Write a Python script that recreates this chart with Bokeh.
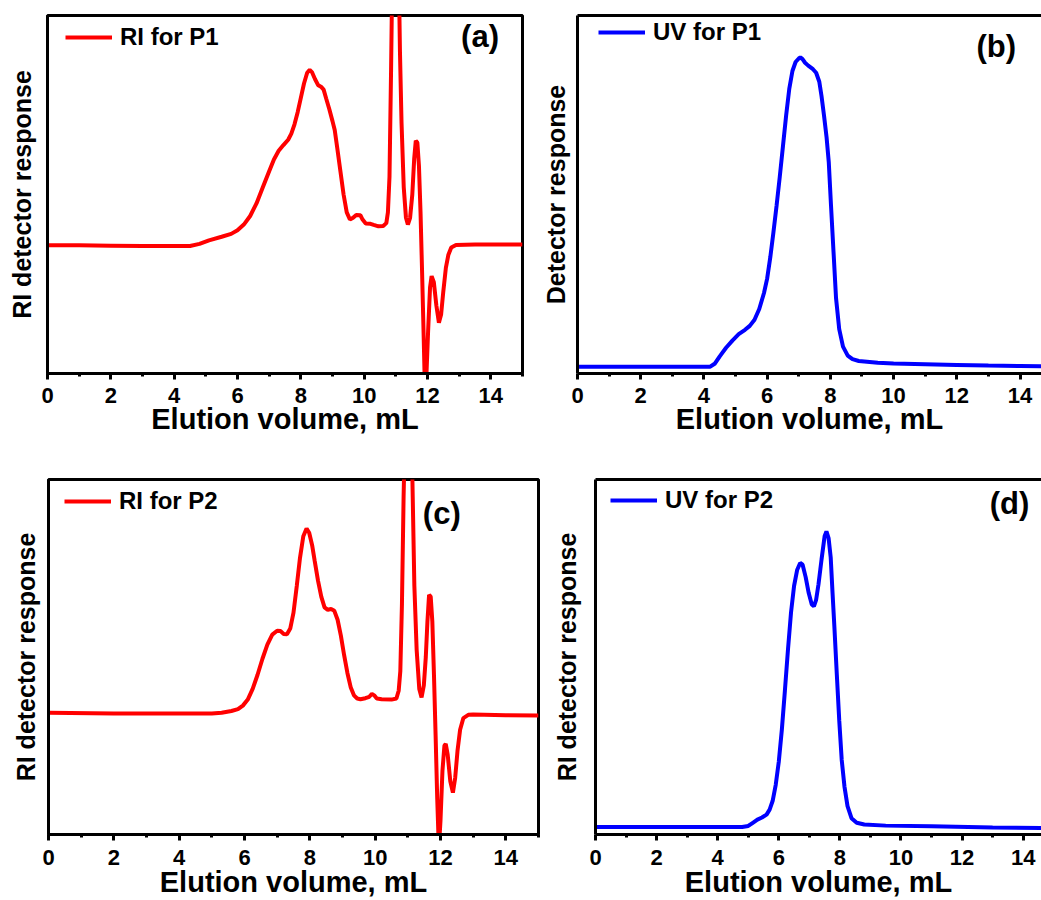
from bokeh.plotting import figure
from bokeh.models import Range1d, FixedTicker, LinearAxis, Legend, LegendItem, Label
from bokeh.layouts import column, row
from bokeh.embed import file_html
from bokeh.resources import INLINE

# ---------------- data (arbitrary detector units 0-100) ----------------
x_ticks = [0, 2, 4, 6, 8, 10, 12, 14]
x_minor = [1, 3, 5, 7, 9, 11, 13, 15]

ri_p1_x = [0.0, 1.0, 2.0, 3.0, 4.0, 4.5, 4.8, 5.1, 5.5, 5.8, 6.0, 6.2, 6.4, 6.6, 6.8, 7.0, 7.15, 7.3,
           7.45, 7.6, 7.7, 7.8, 7.9, 8.0, 8.1, 8.2, 8.28, 8.35, 8.45, 8.55, 8.65, 8.72, 8.8, 8.9,
           9.0, 9.07, 9.15, 9.25, 9.35, 9.45, 9.55, 9.65, 9.75, 9.88, 9.95, 10.05, 10.2, 10.3,
           10.45, 10.6, 10.7, 10.75, 10.8, 10.85, 10.9, 11.0, 11.08, 11.13, 11.18, 11.25, 11.32,
           11.38, 11.45, 11.52, 11.58, 11.63, 11.68, 11.73, 11.78, 11.83, 11.88, 11.92, 11.96,
           12.02, 12.08, 12.13, 12.2, 12.28, 12.36, 12.43, 12.5, 12.58, 12.66, 12.75, 12.9, 13.5,
           14.0, 15.0]
ri_p1_y = [35.8, 35.8, 35.7, 35.6, 35.6, 35.6, 36.2, 37.2, 38.2, 39.0, 40.0, 41.6, 44.0, 47.5, 52.0,
           56.5, 59.8, 62.2, 63.8, 65.3, 67.0, 69.6, 73.0, 77.0, 81.0, 84.0, 84.8, 84.2, 82.2, 80.5,
           80.0, 79.3, 76.8, 73.8, 70.5, 68.0, 63.0, 56.5, 50.0, 45.0, 43.0, 43.5, 44.3, 44.2, 43.0,
           41.9, 41.8, 41.5, 41.1, 41.2, 42.0, 45.0, 55.0, 85.0, 120.0, 140.0, 120.0, 90.0, 70.0,
           52.0, 43.5, 41.6, 43.5, 50.0, 60.0, 65.0, 64.5, 58.0, 45.0, 28.0, 10.0, -5.0, -2.0, 12.0,
           24.0, 27.2, 25.5, 19.0, 14.2, 16.5, 23.0, 29.5, 33.2, 35.2, 35.9, 36.0, 36.0, 36.0]

uv_p1_x = [0.0, 2.0, 4.0, 4.2, 4.35, 4.5, 4.7, 4.9, 5.1, 5.3, 5.45, 5.6, 5.75, 5.9, 6.0, 6.1, 6.2,
           6.3, 6.4, 6.5, 6.6, 6.7, 6.8, 6.9, 7.0, 7.05, 7.12, 7.2, 7.3, 7.45, 7.55, 7.65, 7.72,
           7.8, 7.88, 7.95, 8.02, 8.1, 8.18, 8.28, 8.4, 8.55, 8.7, 8.9, 9.5, 10.0, 11.0, 12.0,
           13.0, 14.0, 15.0]
uv_p1_y = [1.9, 1.9, 1.9, 1.9, 2.8, 4.8, 7.2, 9.2, 11.0, 12.2, 13.3, 15.0, 18.0, 22.5, 26.5, 32.5,
           39.5, 47.0, 55.0, 63.5, 72.0, 79.5, 84.5, 87.0, 88.0, 88.3, 87.8, 86.8, 86.0, 85.0, 84.0,
           81.5, 77.5, 72.0, 66.0, 59.0, 47.0, 34.0, 21.0, 12.4, 7.5, 5.0, 4.0, 3.5, 3.0, 2.8, 2.6,
           2.4, 2.2, 2.1, 2.0]

ri_p2_x = [0.0, 2.0, 4.0, 5.0, 5.3, 5.6, 5.8, 5.95, 6.1, 6.25, 6.4, 6.55, 6.7, 6.85, 7.0, 7.1, 7.2,
           7.3, 7.4, 7.5, 7.6, 7.7, 7.8, 7.9, 7.98, 8.07, 8.15, 8.25, 8.35, 8.45, 8.55, 8.65, 8.75,
           8.85, 8.95, 9.05, 9.15, 9.25, 9.35, 9.45, 9.55, 9.7, 9.82, 9.9, 9.97, 10.05, 10.2, 10.5,
           10.65, 10.72, 10.77, 10.82, 10.87, 10.95, 11.03, 11.1, 11.15, 11.2, 11.27, 11.35, 11.42,
           11.49, 11.55, 11.6, 11.65, 11.7, 11.75, 11.8, 11.85, 11.9, 11.95, 12.0, 12.06, 12.12,
           12.16, 12.22, 12.3, 12.38, 12.45, 12.52, 12.6, 12.7, 12.85, 13.0, 14.0, 15.0]
ri_p2_y = [34.3, 34.1, 34.1, 34.1, 34.3, 34.8, 35.3, 36.3, 38.0, 41.0, 45.0, 49.5, 53.5, 56.3, 57.4,
           57.3, 56.5, 56.4, 58.0, 62.5, 70.0, 78.0, 84.0, 86.2, 85.0, 81.5, 77.0, 71.5, 67.0, 64.0,
           63.3, 63.5, 63.0, 60.5, 56.0, 50.5, 45.5, 41.5, 39.2, 38.3, 38.1, 38.4, 38.8, 39.6, 39.2,
           38.3, 38.1, 38.0, 38.3, 40.5, 46.0, 65.0, 95.0, 130.0, 140.0, 120.0, 95.0, 70.0, 52.0,
           41.0, 38.6, 42.0, 50.0, 60.0, 67.5, 67.0, 60.0, 45.0, 28.0, 10.0, -4.0, 4.0, 18.0, 25.0,
           25.5, 22.5, 15.0, 11.8, 16.0, 23.5, 29.5, 32.8, 33.7, 33.8, 33.6, 33.5]

uv_p2_x = [0.0, 2.0, 4.0, 4.8, 5.0, 5.15, 5.3, 5.45, 5.6, 5.7, 5.8, 5.9, 6.0, 6.1, 6.2, 6.3, 6.4,
           6.5, 6.6, 6.7, 6.78, 6.88, 6.98, 7.08, 7.15, 7.22, 7.3, 7.4, 7.5, 7.56, 7.63, 7.7, 7.76,
           7.82, 7.9, 7.98, 8.06, 8.15, 8.25, 8.38, 8.55, 8.8, 9.5, 11.0, 13.0, 15.0]
uv_p2_y = [2.1, 2.1, 2.1, 2.1, 2.4, 3.3, 4.2, 4.8, 5.6, 7.0, 9.5, 14.0, 20.5, 29.5, 40.5, 52.0, 62.5,
           70.0, 74.5, 76.5, 76.0, 72.5, 68.0, 64.8, 64.3, 66.0, 70.5, 77.5, 84.0, 85.4, 83.5, 78.0,
           68.0, 58.5, 45.0, 32.0, 21.0, 13.5, 8.0, 4.6, 3.3, 2.8, 2.5, 2.3, 2.0, 1.8]

FONT = "Liberation Sans"


def make_panel(xs, ys, color, legend_label, ylabel, tag, tag_x, tag_y, width, height,
               borders, x_end, full_box, legend_loc, ylabel_standoff, tick_standoff, title_standoff):
    left, right, top, bottom = borders
    p = figure(width=width, height=height, x_range=Range1d(0, x_end), y_range=Range1d(0, 100),
               output_backend="svg", toolbar_location=None,
               min_border_left=left, min_border_right=right,
               min_border_top=top, min_border_bottom=bottom)
    p.xgrid.visible = False
    p.ygrid.visible = False
    p.background_fill_color = "white"
    p.border_fill_color = "white"
    r = p.line(xs, ys, line_color=color, line_width=4)

    xa = p.xaxis[0]
    xa.ticker = FixedTicker(ticks=x_ticks, minor_ticks=x_minor)
    xa.axis_line_width = 3
    xa.axis_line_color = "black"
    xa.major_tick_line_width = 3
    xa.major_tick_in = 0
    xa.major_tick_out = 6
    xa.minor_tick_line_width = 3
    xa.minor_tick_in = 0
    xa.minor_tick_out = 3
    xa.major_label_text_font = FONT
    xa.major_label_text_font_size = "22px"
    xa.major_label_text_font_style = "bold"
    xa.major_label_text_color = "black"
    xa.major_label_standoff = tick_standoff
    xa.axis_label = "Elution volume, mL"
    xa.axis_label_text_font = FONT
    xa.axis_label_text_font_size = "29px"
    xa.axis_label_text_font_style = "bold"
    xa.axis_label_text_color = "black"
    xa.axis_label_standoff = title_standoff

    ya = p.yaxis[0]
    ya.ticker = FixedTicker(ticks=[])
    ya.axis_line_width = 3
    ya.axis_line_color = "black"
    ya.major_tick_line_color = None
    ya.minor_tick_line_color = None
    ya.major_tick_out = 0
    ya.minor_tick_out = 0
    ya.major_label_standoff = 0
    ya.major_label_text_font_size = "0px"
    ya.axis_label = ylabel
    ya.axis_label_text_font = FONT
    ya.axis_label_text_font_size = "25px"
    ya.axis_label_text_font_style = "bold"
    ya.axis_label_text_color = "black"
    ya.axis_label_standoff = ylabel_standoff

    if full_box:
        p.outline_line_color = "black"
        p.outline_line_width = 3
        p.outline_line_alpha = 1
    else:
        p.outline_line_color = None
        top_axis = LinearAxis(ticker=FixedTicker(ticks=[]), axis_line_width=3,
                              axis_line_color="black", major_tick_line_color=None,
                              minor_tick_line_color=None, major_tick_out=0, minor_tick_out=0,
                              major_label_text_font_size="0px", major_label_standoff=0)
        p.add_layout(top_axis, "above")

    legend = Legend(items=[LegendItem(label=legend_label, renderers=[r])],
                    location=legend_loc, border_line_color=None,
                    background_fill_color="white", background_fill_alpha=1.0,
                    padding=0, margin=0, spacing=0,
                    glyph_width=47, glyph_height=30, label_height=30, label_standoff=8,
                    label_text_font=FONT, label_text_font_size="24px",
                    label_text_font_style="bold", label_text_color="black")
    p.add_layout(legend)

    p.add_layout(Label(x=tag_x, y=tag_y, text=tag, text_font=FONT, text_font_size="31px",
                       text_font_style="bold", text_color="black",
                       text_align="center", text_baseline="middle"))
    return p


pa = make_panel(ri_p1_x, ri_p1_y, "#FF0000", "RI for P1", "RI detector response", "(a)",
                13.66, 94.1, 530, 455, (47, 8, 15, 82), 15, True, (18, 321), 12, 8, -3)
pb = make_panel(uv_p1_x, uv_p1_y, "#0000FF", "UV for P1", "Detector response", "(b)",
                13.25, 91.4, 511, 455, (47, 0, 12, 82), 14.68, False, (21, 326), 8, 8, -3)
pc = make_panel(ri_p2_x, ri_p2_y, "#FF0000", "RI for P2", "RI detector response", "(c)",
                12.04, 90.4, 545, 445, (48, 7, 24, 65), 15, True, (16, 318), 9, 9, -2)
pd = make_panel(uv_p2_x, uv_p2_y, "#0000FF", "UV for P2", "RI detector response", "(d)",
                13.55, 93.3, 496, 445, (50, 0, 21, 62), 14.6, False, (15, 319), 15, 9, -2)

layout = column(row(pa, pb, spacing=0), row(pc, pd, spacing=0), spacing=0)

open("out.html", "w").write(file_html(layout, INLINE))
